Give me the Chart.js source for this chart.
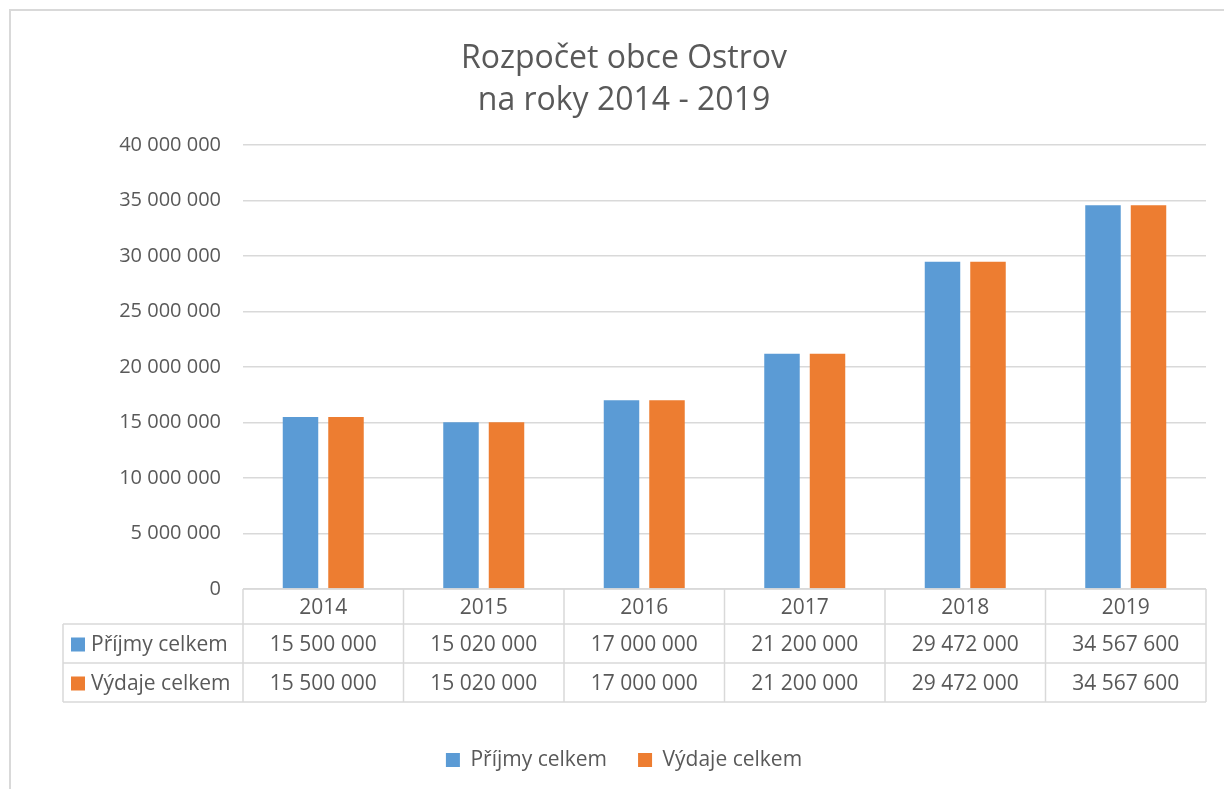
<!DOCTYPE html>
<html>
<head>
<meta charset="utf-8">
<script src="https://cdn.jsdelivr.net/npm/chart.js@4"></script>
<style>
  html, body { margin: 0; padding: 0; background: #ffffff; overflow: hidden; }
  #frame { position: absolute; left: 9px; top: 9px; width: 1300px; height: 900px;
           border-left: 2px solid #d9d9d9; border-top: 2px solid #d9d9d9; box-sizing: border-box; }
  #c { position: absolute; left: 0; top: 0; }
</style>
</head>
<body>
<div id="frame"></div>
<canvas id="c" width="1224" height="789"></canvas>
<script>
const categories = ['2014', '2015', '2016', '2017', '2018', '2019'];
const prijmyCelkem = [15500000, 15020000, 17000000, 21200000, 29472000, 34567600];
const vydajeCelkem = [15500000, 15020000, 17000000, 21200000, 29472000, 34567600];
const seriesNames = ['Příjmy celkem', 'Výdaje celkem'];
const titleLines = ['Rozpočet obce Ostrov', 'na roky 2014 - 2019'];
const yMin = 0;
const yMax = 40000000;
const yStep = 5000000;

const FONT = "'Open Sans', 'DejaVu Sans', sans-serif";
const TEXT = '#595959';
const GRID = '#d9d9d9';
const COLORS = ['#5B9BD5', '#ED7D31'];

function fmt(v) {
  return String(Math.round(v)).replace(/\B(?=(\d{3})+(?!\d))/g, ' ');
}

const seriesData = [prijmyCelkem, vydajeCelkem];

const dataTablePlugin = {
  id: 'dataTable',
  afterDraw(chart) {
    const { ctx, chartArea, scales } = chart;
    const x = scales.x;
    const n = categories.length;
    const catW = x.getPixelForValue(1) - x.getPixelForValue(0);
    const top = chartArea.bottom;
    const rowH = [35, 39, 39];
    const y1 = top + rowH[0];
    const y2 = y1 + rowH[1];
    const y3 = y2 + rowH[2];
    const labelLeft = 63;
    const left = chartArea.left;
    const right = chartArea.right;
    const tShift = 2;

    ctx.save();
    ctx.strokeStyle = GRID;
    ctx.lineWidth = 1.5;
    ctx.beginPath();
    ctx.moveTo(left, top); ctx.lineTo(right, top);
    ctx.moveTo(labelLeft, y1); ctx.lineTo(right, y1);
    ctx.moveTo(labelLeft, y2); ctx.lineTo(right, y2);
    ctx.moveTo(labelLeft, y3); ctx.lineTo(right, y3);
    ctx.moveTo(labelLeft, y1); ctx.lineTo(labelLeft, y3);
    for (let i = 0; i < n; i++) {
      const bx = x.getPixelForValue(i) - catW / 2;
      ctx.moveTo(bx, top); ctx.lineTo(bx, y3);
    }
    const lastX = x.getPixelForValue(n - 1) + catW / 2;
    ctx.moveTo(lastX, top); ctx.lineTo(lastX, y3);
    ctx.stroke();

    ctx.fillStyle = TEXT;
    ctx.font = '21px ' + FONT;
    ctx.textBaseline = 'middle';
    ctx.textAlign = 'center';
    const hy = (top + y1) / 2 + tShift;
    categories.forEach((c, i) => ctx.fillText(c, x.getPixelForValue(i), hy));

    const rowYs = [(y1 + y2) / 2, (y2 + y3) / 2];
    seriesData.forEach((arr, r) => {
      const ty = rowYs[r] + tShift;
      ctx.textAlign = 'center';
      ctx.fillStyle = TEXT;
      arr.forEach((v, i) => ctx.fillText(fmt(v), x.getPixelForValue(i), ty));
      ctx.fillStyle = COLORS[r];
      ctx.fillRect(71, rowYs[r] - 7 + 1, 14, 14);
      ctx.fillStyle = TEXT;
      ctx.textAlign = 'left';
      ctx.fillText(seriesNames[r], 91, ty);
    });
    ctx.restore();
  }
};

new Chart(document.getElementById('c'), {
  type: 'bar',
  data: {
    labels: categories,
    datasets: seriesData.map((arr, i) => ({
      label: seriesNames[i],
      data: arr,
      backgroundColor: COLORS[i],
      borderWidth: 0,
      categoryPercentage: 0.567,
      barPercentage: 0.78
    }))
  },
  options: {
    responsive: false,
    animation: false,
    devicePixelRatio: 1,
    layout: { padding: { left: 42, right: 18, top: 0, bottom: 8.5 } },
    plugins: {
      title: {
        display: true,
        text: titleLines,
        color: TEXT,
        font: { family: FONT, size: 32, weight: 'normal', lineHeight: 1.3125 },
        padding: { top: 38, bottom: 23 }
      },
      legend: {
        position: 'bottom',
        labels: {
          color: TEXT,
          font: { family: FONT, size: 21 },
          boxWidth: 14,
          boxHeight: 14,
          padding: 31
        }
      },
      tooltip: { enabled: false }
    },
    scales: {
      x: {
        ticks: { display: false },
        grid: { display: false, drawTicks: false },
        border: { display: false },
        afterFit(s) { s.height = 129.5; }
      },
      y: {
        min: yMin,
        max: yMax,
        ticks: {
          stepSize: yStep,
          color: TEXT,
          font: { family: FONT, size: 20 },
          padding: 22,
          callback: (v) => fmt(v)
        },
        grid: { color: GRID, lineWidth: 1.5, drawTicks: false },
        border: { display: false },
        afterFit(s) { s.width = 201; }
      }
    }
  },
  plugins: [dataTablePlugin]
});
</script>
</body>
</html>
